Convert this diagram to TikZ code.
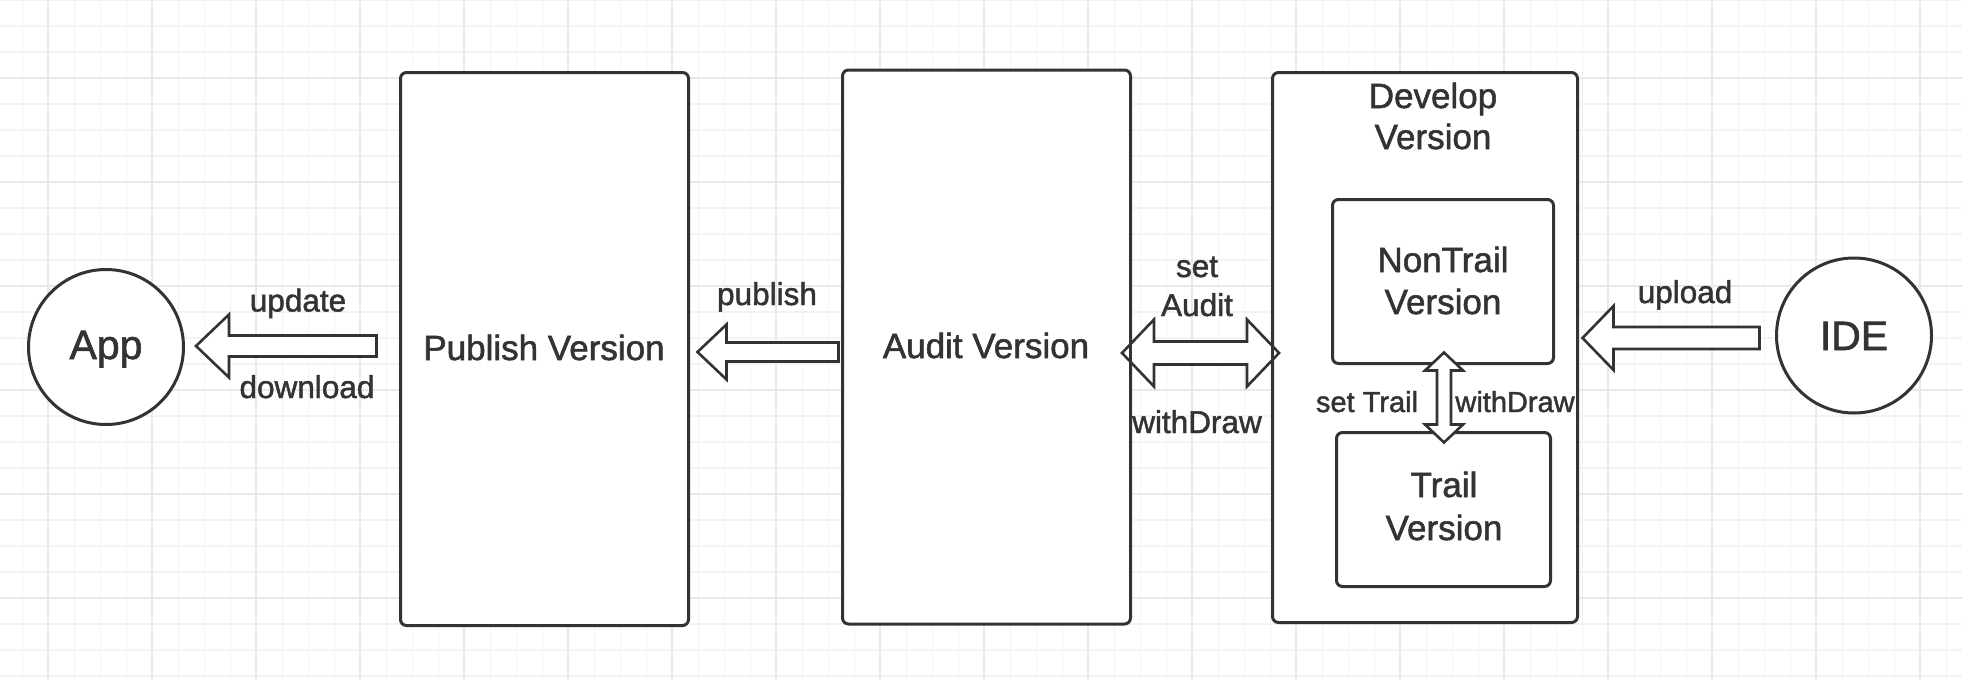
\documentclass[tikz,border=0pt]{standalone}
\usepackage{fontspec}
\setmainfont{Liberation Sans}[FakeBold=1.5]
\usetikzlibrary{calc}
\definecolor{ink}{HTML}{333333}
\definecolor{gridminor}{HTML}{F3F3F3}
\definecolor{gridmajor}{HTML}{E9E9E9}
\newcommand\leftblock[5]{% tip, tail, shaft half, head half, head length
  \draw[blk] (#1) -- ($(#1)+(#5,-#4)$) -- ($(#1)+(#5,-#3)$) -- ($(#2)+(0,-#3)$)
    -- ($(#2)+(0,#3)$) -- ($(#1)+(#5,#3)$) -- ($(#1)+(#5,#4)$) -- cycle;}
\newcommand\hdouble[5]{% left tip, right tip, shaft half, head half, head length
  \draw[blk] (#1) -- ($(#1)+(#5,-#4)$) -- ($(#1)+(#5,-#3)$) -- ($(#2)+(-#5,-#3)$)
    -- ($(#2)+(-#5,-#4)$) -- (#2) -- ($(#2)+(-#5,#4)$) -- ($(#2)+(-#5,#3)$)
    -- ($(#1)+(#5,#3)$) -- ($(#1)+(#5,#4)$) -- cycle;}
\newcommand\vdouble[5]{% top tip, bottom tip, shaft half, head half, head length
  \draw[blk] (#1) -- ($(#1)+(-#4,#5)$) -- ($(#1)+(-#3,#5)$) -- ($(#2)+(-#3,-#5)$)
    -- ($(#2)+(-#4,-#5)$) -- (#2) -- ($(#2)+(#4,-#5)$) -- ($(#2)+(#3,-#5)$)
    -- ($(#1)+(#3,#5)$) -- ($(#1)+(#4,#5)$) -- cycle;}
\begin{document}
\begin{tikzpicture}[x=1pt,y=-1pt,
  box/.style={draw=ink,line width=3pt,rounded corners=6pt,fill=white,inner sep=0pt,outer sep=0pt},
  circ/.style={draw=ink,line width=3pt,circle,fill=white,inner sep=0pt,minimum size=155pt},
  blk/.style={draw=ink,line width=2.6pt,fill=white,line join=miter},
  lbl/.style={text=ink,inner sep=0pt,anchor=base},
  big/.style={lbl,font=\fontsize{35}{42}\selectfont},
  huge/.style={lbl,font=\fontsize{41}{48}\selectfont},
  edge/.style={lbl,font=\fontsize{31.5}{38}\selectfont},
  small/.style={lbl,font=\fontsize{29}{35}\selectfont}]
\useasboundingbox (0,0) rectangle (1962,680);
\fill[white] (0,0) rectangle (1962,680);
% grid
\foreach \i in {0,...,75}{\draw[gridminor,line width=1.5pt] ({22.3+26*\i},0) -- ({22.3+26*\i},680);}
\foreach \i in {0,...,26}{\draw[gridminor,line width=1.5pt] (0,{0.15+26*\i}) -- (1962,{0.15+26*\i});}
\foreach \i in {0,...,18}{\draw[gridmajor,line width=2pt] ({48.3+104*\i},0) -- ({48.3+104*\i},680);}
\foreach \i in {0,...,6}{\draw[gridmajor,line width=2pt] (0,{78.15+104*\i}) -- (1962,{78.15+104*\i});}

% shapes
\node[circ] (app) at (106,347) {};
\node[circ] (ide) at (1854,335.5) {};
\node[box,minimum width=288pt,minimum height=553pt] (publish) at (544.5,349) {};
\node[box,minimum width=288pt,minimum height=554pt] (audit) at (986.5,347) {};
\node[box,minimum width=305pt,minimum height=550pt] (develop) at (1425,347.5) {};
\node[box,minimum width=221pt,minimum height=164pt] (nontrail) at (1443,281.5) {};
\node[box,minimum width=214pt,minimum height=154pt] (trail) at (1443.5,509.5) {};

% texts
\node[huge] (apptxt) at (106,359) {App};
\node[huge] (idetxt) at (1854,350) {IDE};
\node[big] (pubtxt) at (544,360) {Publish Version};
\node[big] (audtxt) at (986,358) {Audit Version};
\node[big] (devtxtA) at (1433,108) {Develop};
\node[big] (devtxtB) at (1433,149) {Version};
\node[big] (ntA) at (1443,272) {NonTrail};
\node[big] (ntB) at (1443,314) {Version};
\node[big] (trA) at (1444,497) {Trail};
\node[big] (trB) at (1444,540) {Version};

% connectors
\coordinate (updtip) at ($(app.east)+(11,-1)$);
\coordinate (updtail) at ($(publish.west)+(-24,-3)$);
\leftblock{updtip}{updtail}{10.5}{31.5}{33}
\coordinate (pubtip) at ($(publish.east)+(9,3)$);
\coordinate (pubtail) at ($(audit.west)+(-4,5)$);
\leftblock{pubtip}{pubtail}{9.5}{27.5}{29}
\coordinate (saL) at ($(audit.east)+(-8.5,6)$);
\coordinate (saR) at ($(develop.west)+(6.5,5.5)$);
\hdouble{saL}{saR}{11.5}{33.5}{32}
\coordinate (upltip) at ($(develop.east)+(5,-9.5)$);
\coordinate (upltail) at ($(ide.west)+(-15.5,2.5)$);
\leftblock{upltip}{upltail}{11}{32}{31}
\coordinate (vtT) at ($(nontrail.south)+(1,-11)$);
\coordinate (vtB) at ($(trail.north)+(0.5,10)$);
\vdouble{vtT}{vtB}{7}{19}{18}

% redraw borders crossed by the double arrow
\draw[draw=ink,line width=3pt] ($(audit.north east)+(0,10)$) -- ($(audit.south east)+(0,-10)$);
\draw[draw=ink,line width=3pt] ($(develop.north west)+(0,10)$) -- ($(develop.south west)+(0,-10)$);

% connector labels
\node[edge] (lupd) at (298,311.5) {update};
\node[edge] (ldl) at (307,398) {download};
\node[edge] (lpub) at (767,305) {publish};
\node[edge] (lset) at (1197,277) {set};
\node[edge] (laud) at (1197,316) {Audit};
\node[edge] (lwd) at (1197,433) {withDraw};
\node[small] (lst) at (1367,412) {set Trail};
\node[small] (lwd2) at (1515,412) {withDraw};
\node[edge] (lupl) at (1685,303) {upload};
\end{tikzpicture}
\end{document}
